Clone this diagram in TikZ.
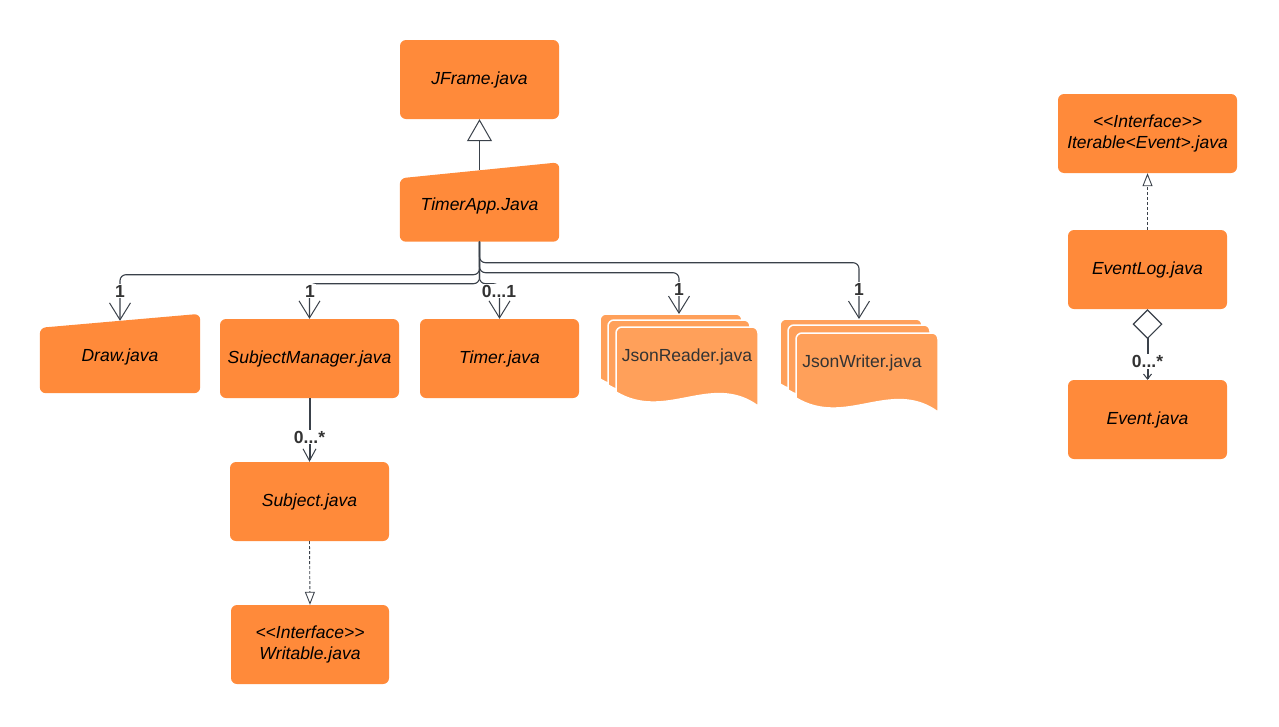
\documentclass[tikz,border=0pt]{standalone}
\usepackage{fontspec}
\setmainfont{Liberation Sans}
\usetikzlibrary{arrows.meta,backgrounds}

\definecolor{boxorange}{RGB}{255,138,58}
\definecolor{docorange}{RGB}{255,160,90}
\definecolor{linegrey}{RGB}{58,65,74}
\definecolor{textgrey}{RGB}{51,51,51}
\newcommand\ltlt{<\kern0pt<}
\newcommand\gtgt{>\kern0pt>}

\begin{document}
\begin{tikzpicture}[x=1pt,y=-1pt,
  box/.style={rectangle,rounded corners=6pt,fill=boxorange,minimum width=159pt,minimum height=79pt,
    inner sep=0pt,align=center,font=\fontsize{17.5}{21}\selectfont\itshape},
  widebox/.style={box,minimum width=179pt},
  slantbox/.style={box,fill=none,minimum height=71pt},
  doctext/.style={font=\fontsize{17.5}{21}\selectfont,text=textgrey,inner sep=0pt},
  mult/.style={font=\fontsize{17.5}{20}\selectfont\bfseries,text=textgrey,fill=white,inner sep=1pt},
  assoc/.style={draw=linegrey,line width=1.1pt,rounded corners=6pt,
    -{Straight Barb[length=17pt,width=21pt,line width=1pt]}},
  realize/.style={draw=linegrey,line width=0.9pt,dash pattern=on 3pt off 2pt,
    -{Triangle[open,length=13pt,width=10pt,line width=0.9pt]}}]
\useasboundingbox (0,0) rectangle (1279,726);

% classes
\node[box] (jframe) at (479.5,79.5) {JFrame.java};
\node[slantbox] (tapp) at (479.5,206) {TimerApp.Java};
\node[slantbox,minimum width=160pt,minimum height=72pt] (drawcls) at (120,357) {Draw.java};
\node[widebox] (subjmgr) at (309.5,358.5) {SubjectManager.java};
\node[box] (timer) at (499.5,358.5) {Timer.java};
\node[box] (subject) at (309.5,501.5) {Subject.java};
\node[box,minimum width=158pt] (writable) at (310,644.5) {\ltlt Interface\gtgt\\Writable.java};

\node[widebox] (iterable) at (1147.5,133.5) {\ltlt Interface\gtgt\\Iterable<Event>.java};
\node[box] (eventlog) at (1147.5,269.5) {EventLog.java};
\node[box] (event) at (1147.5,419.5) {Event.java};

% slanted tops
\begin{scope}[on background layer]
\fill[boxorange,rounded corners=6pt] (tapp.south west) -- ([yshift=-8pt]tapp.north west)
  -- ([yshift=8pt]tapp.north east) -- (tapp.south east) -- cycle;
\fill[boxorange,rounded corners=6pt] (drawcls.south west) -- ([yshift=-7pt]drawcls.north west)
  -- ([yshift=7pt]drawcls.north east) -- (drawcls.south east) -- cycle;
\end{scope}

% document stacks
\foreach \x/\y in {600/314,608/320,616/327,780/319,788/325,796/333}
  \fill[docorange,draw=white,line width=1.5pt] (\x,\y+65) [rounded corners=6pt] -- (\x,\y)
    -- (\x+142,\y) [sharp corners] -- (\x+142,\y+79)
    .. controls (\x+95,\y+45) and (\x+50,\y+95) .. (\x,\y+65) -- cycle;
\node[doctext] (jreader) at (687,357) {JsonReader.java};
\node[doctext] (jwriter) at (862,363) {JsonWriter.java};
\coordinate (jreader top) at (679,314);
\coordinate (jwriter top) at (859,319);

% TimerApp
\draw[draw=linegrey,line width=1pt,-{Triangle[open,length=22pt,width=25pt,fill=white]}] (tapp.north) -- (jframe.south);
\draw[assoc] (tapp.south) -- ++(0,33) -| (drawcls.north);
\draw[assoc] (tapp.south) -- ++(0,42) -| (subjmgr.north);
\draw[assoc] (tapp.south) -- ++(0,42) -| (timer.north);
\draw[assoc] (tapp.south) -- ++(0,31) -| (jreader top);
\draw[assoc] (tapp.south) -- ++(0,21) -| (jwriter top);
\node[mult] (m1) at (120,291) {1};
\node[mult] (m2) at (310,291) {1};
\node[mult] (m3) at (499,291) {0...1};
\node[mult] (m4) at (679,289) {1};
\node[mult] (m5) at (859,289) {1};

% subjects
\draw[draw=linegrey,line width=2pt,-{Straight Barb[length=12pt,width=13pt,line width=1pt]}]
  (subjmgr.south) -- node[mult,pos=0.61] (m6) {0...*} (subject.north);
\draw[realize] (subject.south) -- (writable.north);

% event log
\draw[realize] (eventlog.north) -- (iterable.south);
\draw[draw=linegrey,line width=2pt,{Diamond[open,length=30pt,width=30pt,line width=1.2pt,fill=white]}-{Straight Barb[length=5pt,width=8pt,line width=1pt]}]
  (eventlog.south) -- node[mult,pos=0.74] (m7) {0...*} (event.north);
\end{tikzpicture}
\end{document}
